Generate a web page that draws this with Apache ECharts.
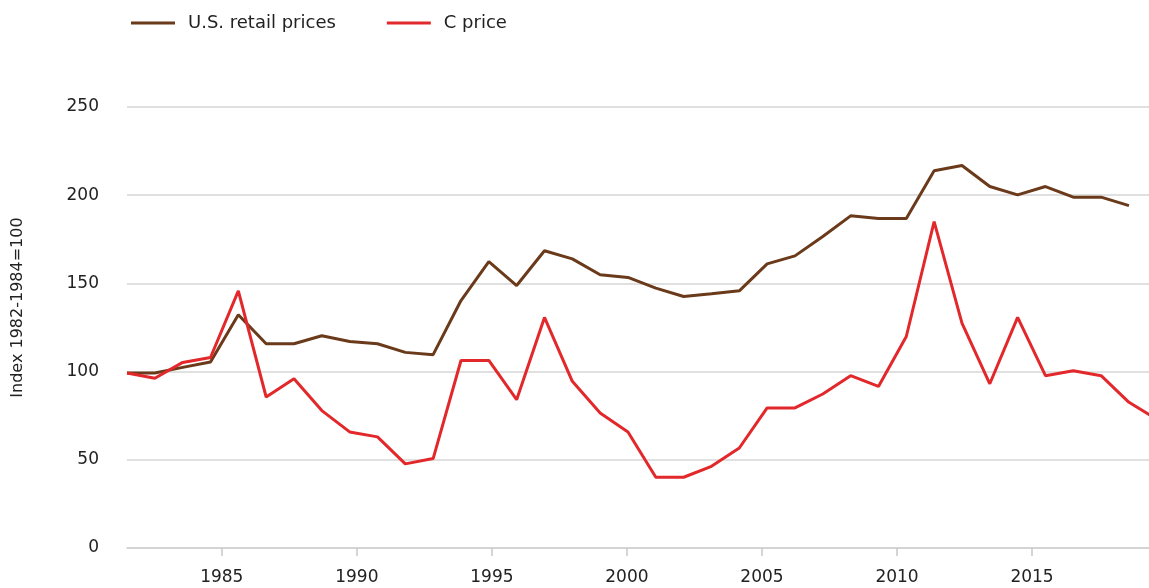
<!DOCTYPE html>
<html>
<head>
<meta charset="utf-8">
<script src="https://cdn.jsdelivr.net/npm/echarts@6/dist/echarts.min.js"></script>
<style>
  html, body { margin: 0; padding: 0; background: #fff; }
  #chart { width: 1149px; height: 588px; }
</style>
</head>
<body>
<div id="chart"></div>
<script>
// Datos
var years = [1982, 1983, 1984, 1985, 1986, 1987, 1988, 1989, 1990, 1991,
  1992, 1993, 1994, 1995, 1996, 1997, 1998, 1999, 2000, 2001,
  2002, 2003, 2004, 2005, 2006, 2007, 2008, 2009, 2010, 2011,
  2012, 2013, 2014, 2015, 2016, 2017, 2018, 2019];
var retailPrices = [99.2, 99.2, 102.4, 105.4, 132.2, 115.8, 115.8, 120.3, 117.1, 115.8,
  110.9, 109.6, 140.3, 162.4, 148.8, 168.5, 163.9, 154.9, 153.4, 147.3,
  142.6, 144.1, 145.8, 161.1, 165.6, 176.6, 188.3, 186.8, 186.8, 213.9,
  216.8, 204.9, 200.2, 204.9, 198.9, 198.9, 194.1, null];
var cPrice = [99.2, 96.2, 105.2, 108.0, 145.8, 85.6, 96.0, 77.9, 65.8, 63.0,
  47.7, 50.7, 106.3, 106.3, 84.1, 130.7, 94.5, 76.5, 65.8, 40.1,
  40.1, 46.3, 56.7, 79.4, 79.4, 87.3, 97.7, 91.6, 119.9, 185.0,
  127.5, 93.1, 130.7, 97.7, 100.5, 97.7, 82.6, 73.0];
var tickYears = [1985, 1990, 1995, 2000, 2005, 2010, 2015];

var myChart = echarts.init(document.getElementById('chart'));
var font = 'DejaVu Sans';

function pairs(values) {
  return years.map(function (y, i) { return [y, values[i]]; });
}

var option = {
  animation: false,
  textStyle: { fontFamily: font },
  legend: {
    left: 126,
    top: 9,
    icon: 'rect',
    itemWidth: 44,
    itemHeight: 3,
    itemGap: 51,
    textStyle: { fontFamily: font, fontSize: 18, color: '#222', padding: [0, 0, 0, 8] },
    data: ['U.S. retail prices', 'C price']
  },
  grid: { left: 127, right: 0, top: 107, bottom: 40 },
  xAxis: [
    {
      // eje de datos (oculto)
      type: 'value',
      min: 1982,
      max: 2018.72,
      axisLine: { show: false },
      axisTick: { show: false },
      axisLabel: { show: false },
      splitLine: { show: false }
    },
    {
      // eje de etiquetas
      type: 'value',
      position: 'bottom',
      min: 1981.49,
      max: 2019.33,
      axisLine: { onZero: false, lineStyle: { color: '#cfcfcf', width: 1.5 } },
      axisTick: { show: true, length: 8, customValues: tickYears, lineStyle: { color: '#c8c8c8', width: 1.5 } },
      axisLabel: {
        customValues: tickYears,
        formatter: function (v) { return String(v); },
        margin: 21,
        fontFamily: font,
        fontSize: 17,
        color: '#222'
      },
      splitLine: { show: false }
    }
  ],
  yAxis: {
    type: 'value',
    min: 0,
    max: 250,
    interval: 50,
    name: 'Index 1982-1984=100',
    nameLocation: 'middle',
    nameGap: 101,
    nameTextStyle: { fontFamily: font, fontSize: 16, color: '#222', padding: [0, 0, 0, 40] },
    axisLine: { show: false },
    axisTick: { show: false },
    axisLabel: { margin: 28, fontFamily: font, fontSize: 17, color: '#222' },
    splitLine: { lineStyle: { color: '#d6d6d6', width: 1.5 } }
  },
  series: [
    {
      name: 'U.S. retail prices',
      type: 'line',
      xAxisIndex: 0,
      data: pairs(retailPrices),
      symbol: 'none',
      color: '#6a3a1a',
      lineStyle: { width: 3, color: '#6a3a1a' }
    },
    {
      name: 'C price',
      type: 'line',
      xAxisIndex: 0,
      data: pairs(cPrice),
      symbol: 'none',
      color: '#e2282b',
      lineStyle: { width: 3, color: '#e2282b' }
    }
  ]
};

myChart.setOption(option);
</script>
</body>
</html>
